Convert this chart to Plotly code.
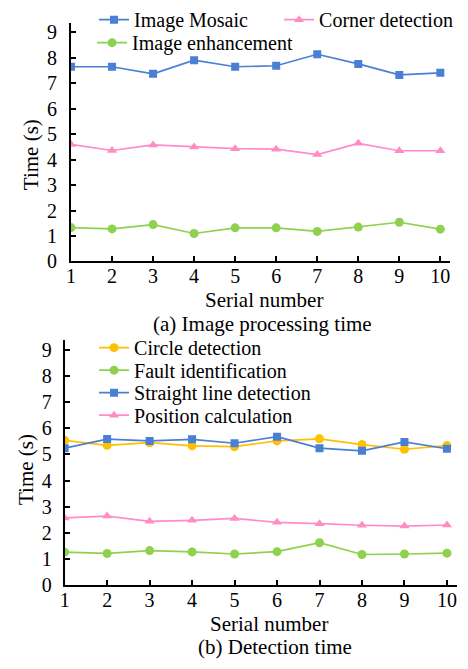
import plotly.graph_objects as go

# ---------------- data ----------------
serial = [1, 2, 3, 4, 5, 6, 7, 8, 9, 10]
y_ticks = [0, 1, 2, 3, 4, 5, 6, 7, 8, 9]

# (a) Image processing time
image_mosaic = [7.65, 7.65, 7.37, 7.91, 7.65, 7.69, 8.14, 7.76, 7.33, 7.41]
corner_detection = [4.60, 4.36, 4.58, 4.50, 4.43, 4.41, 4.20, 4.64, 4.35, 4.35]
image_enhancement = [1.33, 1.28, 1.45, 1.10, 1.32, 1.32, 1.18, 1.35, 1.54, 1.27]

# (b) Detection time
circle_detection = [5.54, 5.35, 5.45, 5.33, 5.30, 5.52, 5.60, 5.38, 5.20, 5.34]
fault_identification = [1.26, 1.21, 1.32, 1.27, 1.19, 1.28, 1.62, 1.17, 1.19, 1.22]
straight_line_detection = [5.24, 5.59, 5.52, 5.58, 5.43, 5.68, 5.24, 5.14, 5.48, 5.22]
position_calculation = [2.57, 2.64, 2.44, 2.48, 2.55, 2.40, 2.35, 2.29, 2.26, 2.30]

# ---------------- style ----------------
W, H = 468, 669
FONT = "Liberation Serif"
TXT = 21
LEG = 20
TICK = 20
BLUE = "#4A7FD6"
PINK = "#FF8CC6"
GREEN = "#8FD14F"
ORANGE = "#FFC000"


def px_x(p):
    return p / W


def px_y(p):
    return 1 - p / H


fig = go.Figure()


def add(x, y, name, color, symbol, xa, ya, legend, size=8):
    fig.add_trace(go.Scatter(
        x=x, y=y, name=name, mode="lines+markers",
        line=dict(color=color, width=1.7),
        marker=dict(color=color, symbol=symbol, size=size),
        xaxis=xa, yaxis=ya, legend=legend,
    ))


# top chart
add(serial, image_mosaic, "Image Mosaic", BLUE, "square", "x", "y", "legend", 8)
add(serial, corner_detection, "Corner detection", PINK, "triangle-up", "x", "y", "legend", 9)
add(serial, image_enhancement, "Image enhancement", GREEN, "circle", "x", "y", "legend2", 9)

# bottom chart
add(serial, circle_detection, "Circle detection", ORANGE, "circle", "x2", "y2", "legend3", 9)
add(serial, fault_identification, "Fault identification", GREEN, "circle", "x2", "y2", "legend4", 9)
add(serial, straight_line_detection, "Straight line detection", BLUE, "square", "x2", "y2", "legend5", 8)
add(serial, position_calculation, "Position calculation", PINK, "triangle-up", "x2", "y2", "legend6", 9)

axis_common = dict(
    showline=True, linecolor="black", linewidth=2,
    ticks="inside", ticklen=5, tickwidth=1.5, tickcolor="black",
    showgrid=False, zeroline=False,
    tickfont=dict(family=FONT, size=TICK, color="black"),
)

fig.update_layout(
    width=W, height=H,
    margin=dict(l=0, r=0, t=0, b=0),
    paper_bgcolor="white", plot_bgcolor="white",
    font=dict(family=FONT, size=TXT, color="black"),
    xaxis=dict(axis_common, domain=[px_x(66.7), px_x(450)], range=[1, 10.24],
               tickvals=serial, anchor="y", ticklabelstandoff=-4),
    yaxis=dict(axis_common, domain=[px_y(264), px_y(20)], range=[0, 9.385],
               tickvals=y_ticks, anchor="x", ticklabelstandoff=8),
    xaxis2=dict(axis_common, domain=[px_x(60.3), px_x(456.7)], range=[1, 10.233],
                tickvals=serial, anchor="y2", ticklabelstandoff=-4),
    yaxis2=dict(axis_common, domain=[px_y(594.5), px_y(344)], range=[0, 9.39],
                tickvals=y_ticks, anchor="x2", ticklabelstandoff=7),
    showlegend=True,
)

leg_common = dict(
    bgcolor="rgba(0,0,0,0)", borderwidth=0,
    font=dict(family=FONT, size=LEG, color="black"),
    xanchor="left", yanchor="middle",
    itemclick=False, itemdoubleclick=False,
)

fig.update_layout(
    legend=dict(leg_common, orientation="h", x=px_x(90), y=px_y(17),
                entrywidth=140, entrywidthmode="pixels"),
    legend2=dict(leg_common, orientation="h", x=px_x(88), y=px_y(40.5)),
    legend3=dict(leg_common, orientation="h", x=px_x(90), y=px_y(352)),
    legend4=dict(leg_common, orientation="h", x=px_x(90), y=px_y(375)),
    legend5=dict(leg_common, orientation="h", x=px_x(90), y=px_y(398)),
    legend6=dict(leg_common, orientation="h", x=px_x(90), y=px_y(421)),
)

annotations = [
    dict(text="Time (s)", x=px_x(25.7), y=px_y(155), textangle=-90),
    dict(text="Serial number", x=px_x(261.5), y=px_y(303)),
    dict(text="(a) Image processing time", x=px_x(260), y=px_y(328)),
    dict(text="Time (s)", x=px_x(20.7), y=px_y(476.5), textangle=-90),
    dict(text="Serial number", x=px_x(267), y=px_y(634)),
    dict(text="(b) Detection time", x=px_x(272.8), y=px_y(658)),
]
for a in annotations:
    fig.add_annotation(
        xref="paper", yref="paper", showarrow=False,
        xanchor="center", yanchor="middle",
        font=dict(family=FONT, size=TXT, color="black"), **a,
    )

fig.write_html("out.html")
